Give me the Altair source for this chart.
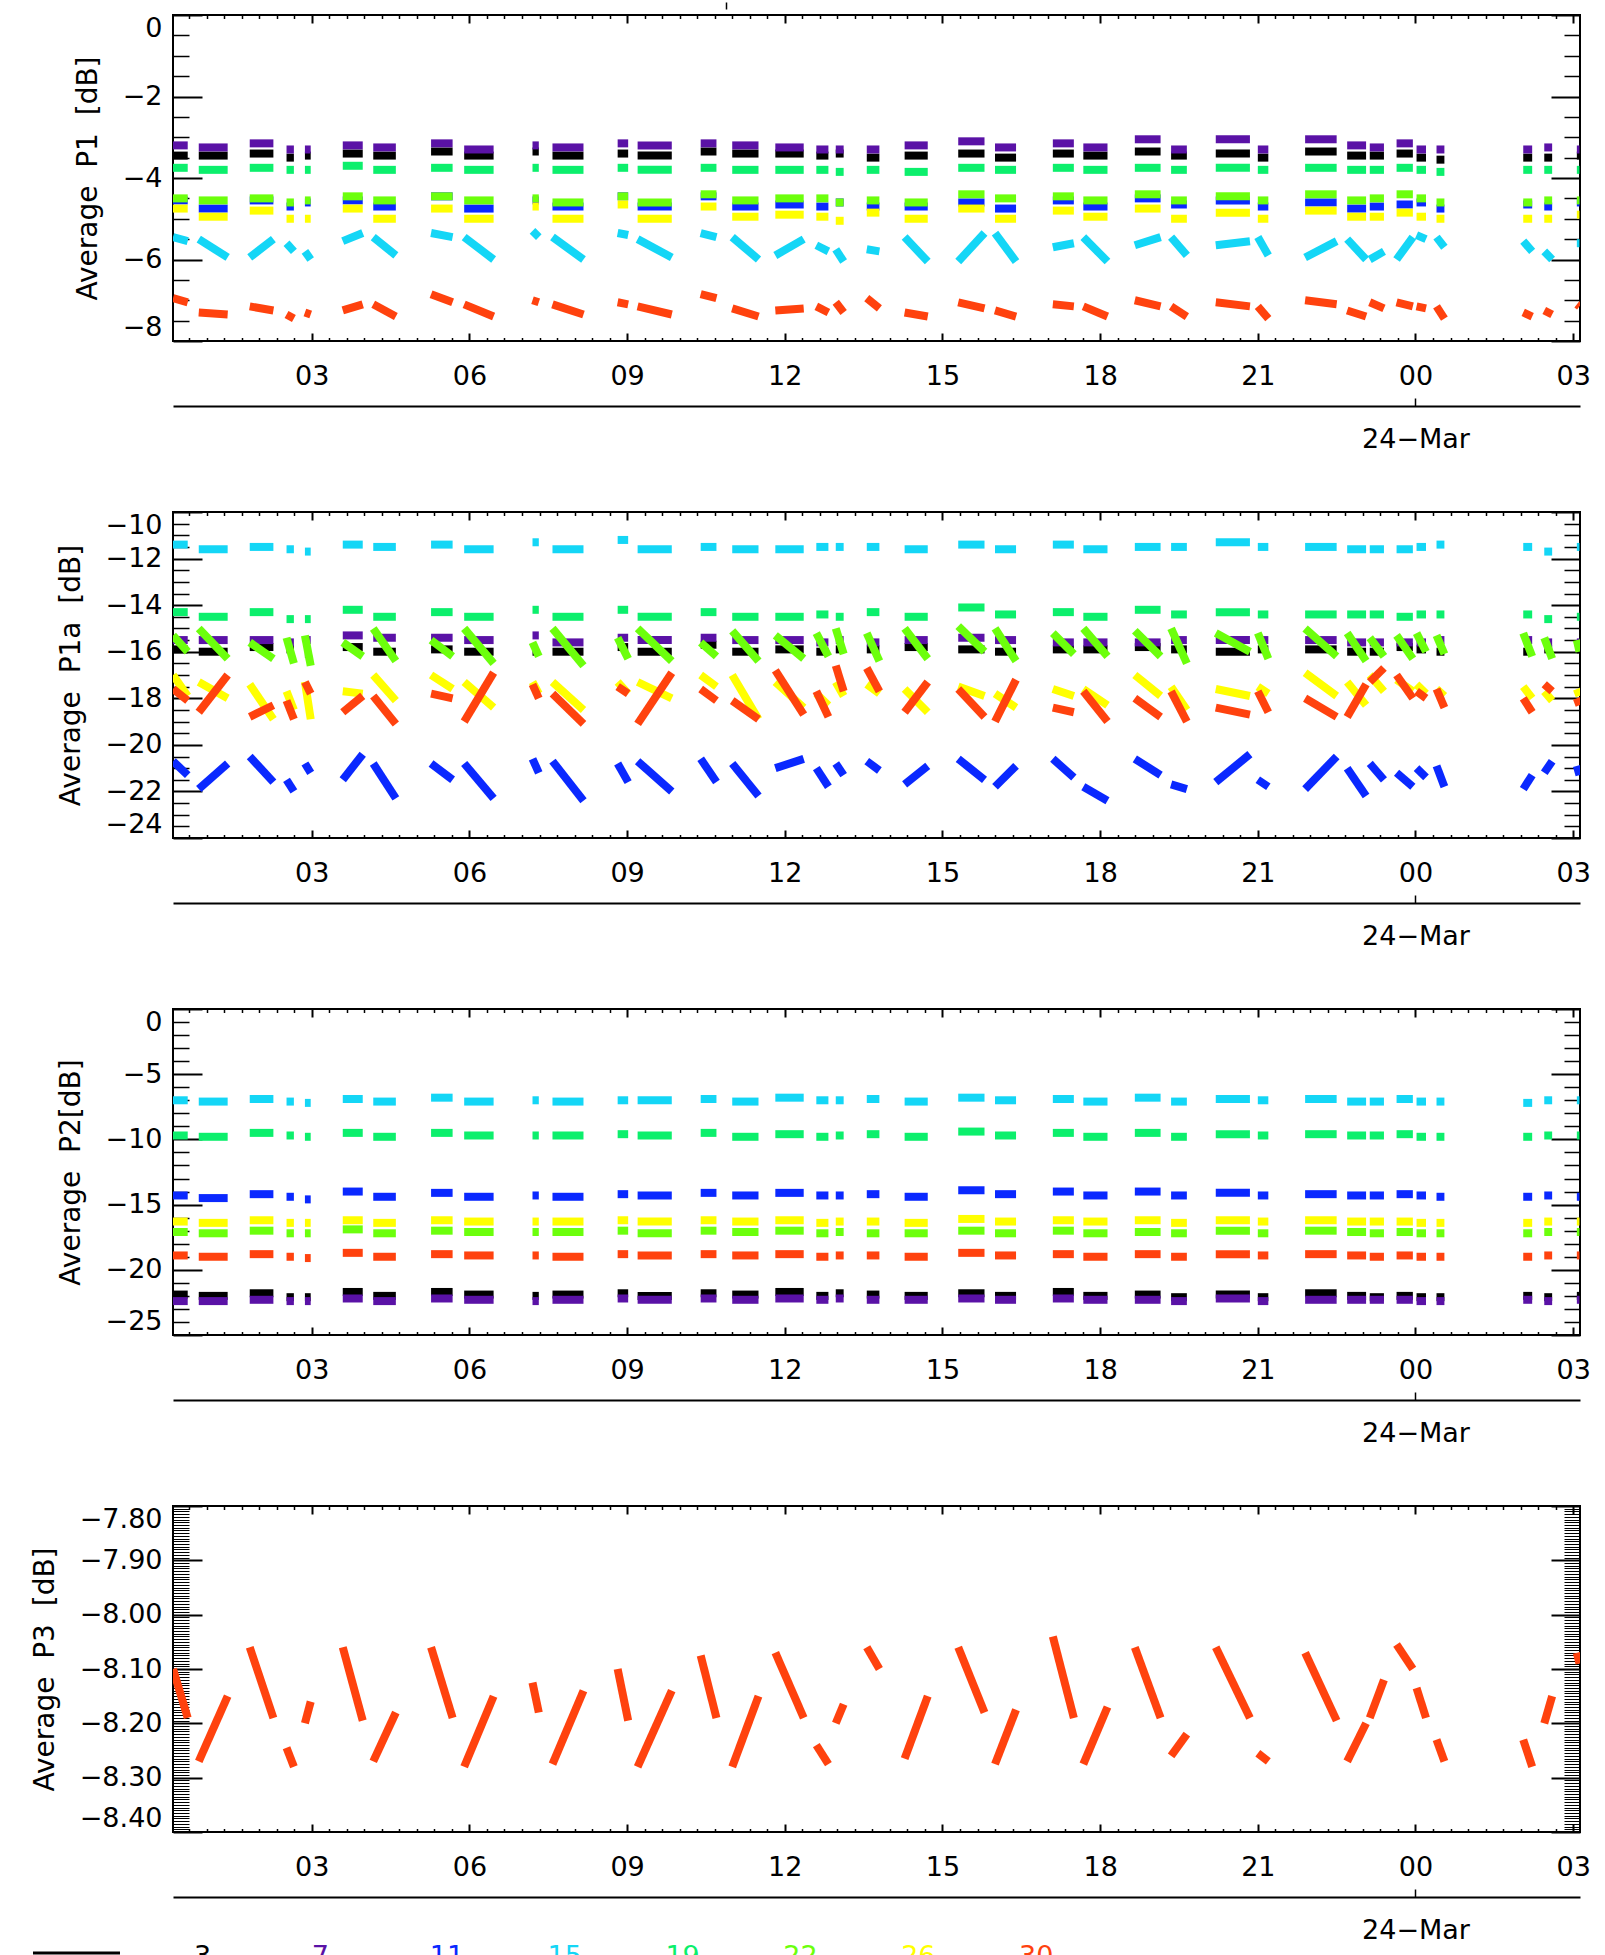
import altair as alt
import pandas as pd

FONT = "DejaVu Sans"

SERIES = ["3", "7", "11", "15", "19", "22", "26", "30"]
COLORS = ["#000000", "#5a12a6", "#0a28ff", "#14d6f6", "#0cef6c", "#6cff0c", "#ffff00", "#ff420e"]

# measurement clusters (hours since 00:00, 23-Mar)
CL_START = [0.36, 0.85, 1.82, 2.52, 2.87, 3.59, 4.17, 5.27, 5.90, 7.20, 7.58, 8.82, 9.20, 10.40, 11.00, 11.82,
            12.60, 12.97, 13.56, 14.28, 15.30, 16.00, 17.10, 17.68, 18.66, 19.35, 20.20, 21.00, 21.90, 22.70,
            23.13, 23.64, 24.02, 24.40, 26.05, 26.45, 27.07]
CL_END = [0.64, 1.40, 2.27, 2.66, 2.98, 3.97, 4.60, 5.68, 6.46, 7.32, 8.17, 9.02, 9.85, 10.70, 11.50, 12.36,
          12.83, 13.12, 13.80, 14.72, 15.80, 16.40, 17.50, 18.14, 19.15, 19.65, 20.85, 21.20, 22.50, 23.06,
          23.40, 23.95, 24.20, 24.55, 26.22, 26.60, 27.12]

# ---------------- Average P1 [dB]
P1_3 = [-3.45,-3.45,-3.40,-3.50,-3.45,-3.40,-3.45,-3.35,-3.45,-3.35,-3.45,-3.40,-3.45,-3.35,-3.40,-3.40,-3.45,-3.40,-3.50,-3.45,-3.40,-3.50,-3.40,-3.45,-3.35,-3.45,-3.40,-3.50,-3.35,-3.45,-3.45,-3.40,-3.50,-3.55,-3.50,-3.50,-3.45]
P1_7 = [-3.20,-3.25,-3.15,-3.30,-3.30,-3.20,-3.25,-3.15,-3.30,-3.20,-3.25,-3.15,-3.20,-3.15,-3.20,-3.25,-3.30,-3.30,-3.30,-3.20,-3.10,-3.25,-3.15,-3.25,-3.05,-3.30,-3.05,-3.30,-3.05,-3.20,-3.25,-3.15,-3.30,-3.30,-3.30,-3.25,-3.30]
P1_11 = [-4.55,-4.75,-4.55,-4.70,-4.60,-4.55,-4.70,-4.45,-4.75,-4.55,-4.70,-4.45,-4.70,-4.45,-4.70,-4.65,-4.70,-4.60,-4.70,-4.70,-4.60,-4.75,-4.55,-4.70,-4.50,-4.65,-4.55,-4.70,-4.60,-4.75,-4.70,-4.65,-4.60,-4.75,-4.65,-4.70,-4.60]
P1_15_S = [-5.45,-5.50,-5.95,-5.60,-5.80,-5.55,-5.45,-5.35,-5.45,-5.30,-5.45,-5.35,-5.50,-5.35,-5.45,-5.90,-5.65,-5.75,-5.75,-5.45,-6.05,-5.35,-5.70,-5.45,-5.65,-5.45,-5.65,-5.45,-5.95,-5.50,-6.00,-6.00,-5.40,-5.45,-5.55,-5.80,-5.60]
P1_15_E = [-5.55,-5.95,-5.50,-5.80,-6.00,-5.35,-5.90,-5.45,-6.00,-5.45,-6.00,-5.40,-5.95,-5.45,-6.00,-5.50,-5.80,-6.05,-5.80,-6.05,-5.35,-6.05,-5.60,-6.05,-5.45,-5.90,-5.55,-5.90,-5.55,-6.00,-5.80,-5.45,-5.50,-5.70,-5.80,-6.00,-5.60]
P1_19 = [-3.75,-3.80,-3.75,-3.80,-3.80,-3.70,-3.80,-3.75,-3.80,-3.75,-3.80,-3.75,-3.80,-3.75,-3.80,-3.80,-3.80,-3.85,-3.80,-3.85,-3.75,-3.80,-3.75,-3.80,-3.75,-3.80,-3.75,-3.80,-3.75,-3.80,-3.80,-3.75,-3.80,-3.85,-3.80,-3.80,-3.80]
P1_22 = [-4.50,-4.55,-4.50,-4.60,-4.55,-4.45,-4.55,-4.45,-4.55,-4.50,-4.60,-4.45,-4.60,-4.40,-4.55,-4.50,-4.50,-4.60,-4.55,-4.60,-4.40,-4.50,-4.45,-4.55,-4.40,-4.55,-4.45,-4.55,-4.40,-4.55,-4.50,-4.40,-4.50,-4.60,-4.60,-4.55,-4.55]
P1_26 = [-4.75,-4.95,-4.80,-5.00,-5.00,-4.75,-5.00,-4.75,-5.00,-4.70,-5.00,-4.65,-5.00,-4.70,-4.95,-4.90,-4.95,-5.05,-4.85,-5.00,-4.75,-5.00,-4.80,-4.95,-4.75,-5.00,-4.85,-5.00,-4.80,-4.95,-4.95,-4.85,-4.95,-5.00,-5.00,-5.00,-4.90]
P1_30_S = [-6.95,-7.30,-7.15,-7.35,-7.30,-7.25,-7.10,-6.85,-7.10,-7.00,-7.10,-7.05,-7.15,-6.85,-7.20,-7.25,-7.15,-7.05,-6.95,-7.30,-7.05,-7.25,-7.10,-7.15,-7.00,-7.15,-7.05,-7.15,-7.00,-7.25,-7.05,-7.05,-7.15,-7.15,-7.30,-7.25,-7.10]
P1_30_E = [-7.05,-7.35,-7.25,-7.45,-7.35,-7.10,-7.40,-7.05,-7.40,-7.05,-7.35,-7.10,-7.35,-6.95,-7.40,-7.20,-7.30,-7.30,-7.20,-7.40,-7.20,-7.40,-7.15,-7.40,-7.15,-7.40,-7.15,-7.45,-7.10,-7.40,-7.20,-7.15,-7.20,-7.45,-7.40,-7.35,-7.15]

# ---------------- Average P1a [dB]
P1A_3 = [-15.9,-16.0,-15.8,-15.9,-16.1,-15.8,-16.0,-15.9,-16.0,-16.0,-16.0,-15.8,-16.0,-15.7,-16.0,-15.9,-16.0,-15.9,-15.9,-15.8,-15.9,-16.0,-15.9,-15.9,-15.8,-15.9,-16.0,-15.9,-15.9,-16.0,-16.0,-15.8,-15.9,-16.0,-16.0,-15.9,-15.9]
P1A_7 = [-15.5,-15.5,-15.5,-15.6,-15.5,-15.3,-15.4,-15.4,-15.5,-15.3,-15.6,-15.4,-15.5,-15.4,-15.5,-15.5,-15.6,-15.5,-15.6,-15.5,-15.4,-15.5,-15.6,-15.6,-15.6,-15.5,-15.5,-15.5,-15.5,-15.6,-15.6,-15.6,-15.6,-15.5,-15.5,-15.6,-15.6]
P1A_11_S = [-20.7,-21.9,-20.5,-21.5,-20.8,-21.5,-20.8,-20.8,-20.8,-20.6,-20.7,-20.8,-20.7,-20.6,-20.8,-21.0,-21.0,-20.8,-20.7,-21.7,-20.6,-21.8,-20.6,-21.8,-20.6,-21.7,-21.6,-21.5,-21.9,-21.0,-20.8,-21.2,-21.0,-20.9,-21.9,-21.2,-20.9]
P1A_11_E = [-21.3,-20.8,-21.6,-22.0,-21.2,-20.4,-22.3,-21.5,-22.3,-21.2,-22.4,-21.6,-22.0,-21.6,-22.2,-20.6,-21.8,-21.3,-21.1,-20.9,-21.5,-20.9,-21.4,-22.4,-21.3,-21.9,-20.4,-21.8,-20.5,-22.2,-21.5,-21.8,-21.4,-21.8,-21.3,-20.7,-21.3]
P1A_15 = [-11.4,-11.6,-11.5,-11.6,-11.7,-11.4,-11.5,-11.4,-11.6,-11.3,-11.6,-11.2,-11.6,-11.5,-11.6,-11.6,-11.5,-11.5,-11.5,-11.6,-11.4,-11.6,-11.4,-11.6,-11.5,-11.5,-11.3,-11.5,-11.5,-11.6,-11.6,-11.6,-11.5,-11.4,-11.5,-11.7,-11.5]
P1A_19 = [-14.3,-14.5,-14.3,-14.6,-14.6,-14.2,-14.5,-14.3,-14.5,-14.2,-14.5,-14.2,-14.5,-14.3,-14.5,-14.5,-14.4,-14.5,-14.3,-14.5,-14.1,-14.4,-14.3,-14.5,-14.2,-14.4,-14.3,-14.4,-14.4,-14.4,-14.4,-14.5,-14.4,-14.4,-14.4,-14.6,-14.5]
P1A_22_S = [-15.3,-15.0,-15.6,-15.4,-15.3,-15.6,-15.0,-15.5,-15.0,-15.6,-15.0,-15.4,-15.0,-15.6,-15.1,-15.3,-15.2,-15.0,-15.2,-15.0,-14.9,-15.0,-15.2,-15.0,-15.1,-15.0,-15.2,-15.2,-15.0,-15.2,-15.4,-15.3,-15.2,-15.3,-15.2,-15.4,-15.5]
P1A_22_E = [-16.0,-16.3,-16.3,-16.5,-16.6,-16.2,-16.4,-16.2,-16.5,-16.2,-16.6,-16.3,-16.4,-16.2,-16.4,-16.3,-16.2,-16.1,-16.4,-16.3,-16.0,-16.4,-16.1,-16.2,-16.2,-16.5,-16.0,-16.3,-16.2,-16.4,-16.2,-16.3,-16.0,-16.1,-16.2,-16.3,-16.0]
P1A_26_S = [-17.0,-17.3,-17.4,-17.7,-17.3,-17.7,-17.0,-17.0,-17.3,-17.3,-17.3,-17.3,-17.3,-17.0,-17.0,-17.3,-17.8,-17.3,-17.4,-17.6,-17.5,-17.8,-17.6,-17.6,-17.0,-17.5,-17.6,-17.5,-16.9,-17.3,-17.0,-17.2,-17.4,-17.6,-17.5,-17.7,-17.6]
P1A_26_E = [-17.9,-18.0,-18.9,-18.5,-18.9,-17.8,-18.1,-17.6,-18.4,-17.8,-18.5,-17.8,-18.0,-17.5,-18.9,-18.4,-18.3,-17.9,-17.8,-18.6,-17.9,-18.4,-17.9,-18.3,-17.9,-18.5,-17.9,-17.8,-17.9,-18.3,-17.7,-17.7,-17.8,-17.9,-18.0,-18.1,-17.9]
P1A_30_S = [-17.6,-18.6,-18.8,-18.1,-17.3,-18.6,-17.9,-17.8,-19.0,-17.4,-17.8,-17.5,-19.1,-17.6,-18.1,-16.8,-17.7,-16.6,-16.7,-18.6,-17.6,-19.0,-18.4,-17.7,-18.0,-17.7,-18.4,-17.7,-18.0,-18.8,-17.3,-17.0,-17.7,-17.6,-18.0,-17.4,-18.0]
P1A_30_E = [-18.1,-17.0,-18.3,-18.9,-17.8,-17.9,-19.1,-18.0,-16.9,-18.0,-19.1,-17.8,-16.9,-18.1,-18.9,-18.7,-18.8,-17.7,-17.7,-17.3,-18.8,-17.2,-18.6,-19.0,-18.8,-19.0,-18.7,-18.6,-18.8,-17.4,-16.7,-18.0,-18.0,-18.4,-18.6,-17.7,-18.3]

# ---------------- Average P2 [dB]
P2_3 = [-21.9,-22.0,-21.8,-22.1,-22.1,-21.7,-22.0,-21.7,-21.9,-22.0,-21.9,-21.8,-22.0,-21.8,-21.9,-21.7,-22.0,-21.8,-21.9,-22.0,-21.8,-22.0,-21.7,-22.0,-21.9,-22.1,-21.9,-22.1,-21.8,-22.0,-22.1,-22.0,-22.1,-22.1,-22.0,-22.1,-22.0]
P2_7 = [-22.4,-22.4,-22.3,-22.4,-22.4,-22.2,-22.4,-22.2,-22.3,-22.4,-22.3,-22.2,-22.3,-22.2,-22.3,-22.2,-22.3,-22.2,-22.3,-22.3,-22.2,-22.3,-22.2,-22.3,-22.3,-22.4,-22.2,-22.4,-22.3,-22.3,-22.3,-22.3,-22.4,-22.4,-22.3,-22.4,-22.3]
P2_11 = [-14.3,-14.5,-14.2,-14.4,-14.6,-14.0,-14.4,-14.1,-14.4,-14.3,-14.4,-14.2,-14.3,-14.1,-14.3,-14.1,-14.3,-14.3,-14.2,-14.4,-13.9,-14.2,-14.0,-14.3,-14.0,-14.3,-14.1,-14.3,-14.2,-14.3,-14.3,-14.2,-14.3,-14.4,-14.4,-14.3,-14.4]
P2_15 = [-7.0,-7.1,-6.9,-7.1,-7.2,-6.9,-7.1,-6.8,-7.1,-7.0,-7.1,-7.0,-7.0,-6.9,-7.1,-6.8,-7.0,-7.0,-6.9,-7.1,-6.8,-7.0,-6.9,-7.1,-6.8,-7.1,-6.9,-7.0,-6.9,-7.1,-7.1,-6.9,-7.1,-7.1,-7.2,-7.0,-7.0]
P2_19 = [-9.7,-9.8,-9.5,-9.7,-9.8,-9.5,-9.8,-9.5,-9.7,-9.7,-9.7,-9.6,-9.7,-9.5,-9.8,-9.6,-9.8,-9.7,-9.6,-9.8,-9.4,-9.7,-9.5,-9.8,-9.5,-9.8,-9.6,-9.7,-9.6,-9.7,-9.7,-9.6,-9.8,-9.8,-9.8,-9.7,-9.7]
P2_22 = [-17.1,-17.2,-17.0,-17.2,-17.2,-16.9,-17.2,-17.0,-17.1,-17.1,-17.1,-17.0,-17.2,-17.0,-17.1,-17.0,-17.2,-17.1,-17.2,-17.2,-17.0,-17.2,-17.0,-17.2,-17.1,-17.2,-17.0,-17.2,-17.0,-17.1,-17.2,-17.1,-17.2,-17.2,-17.2,-17.1,-17.1]
P2_26 = [-16.3,-16.4,-16.2,-16.4,-16.4,-16.2,-16.4,-16.2,-16.3,-16.3,-16.3,-16.2,-16.3,-16.2,-16.3,-16.2,-16.4,-16.3,-16.3,-16.4,-16.1,-16.3,-16.2,-16.3,-16.2,-16.4,-16.2,-16.3,-16.2,-16.3,-16.3,-16.3,-16.4,-16.4,-16.4,-16.3,-16.3]
P2_30 = [-18.9,-19.0,-18.8,-19.0,-19.1,-18.7,-19.0,-18.8,-18.9,-18.9,-19.0,-18.8,-18.9,-18.8,-18.9,-18.8,-19.0,-18.9,-18.9,-19.0,-18.7,-18.9,-18.8,-19.0,-18.8,-19.0,-18.8,-18.9,-18.8,-18.9,-19.0,-18.9,-19.0,-19.0,-19.0,-18.9,-18.9]

# ---------------- Average P3 [dB] (channel 30 only)
P3_30_S = [-8.100,-8.270,-8.060,-8.245,-8.200,-8.060,-8.270,-8.060,-8.280,-8.125,-8.275,-8.100,-8.280,-8.075,-8.280,-8.070,-8.240,-8.200,-8.060,-8.265,-8.060,-8.275,-8.040,-8.275,-8.060,-8.260,-8.060,-8.255,-8.070,-8.270,-8.190,-8.055,-8.135,-8.230,-8.230,-8.200,-8.070]
P3_30_E = [-8.190,-8.150,-8.190,-8.280,-8.160,-8.195,-8.180,-8.190,-8.150,-8.180,-8.140,-8.195,-8.140,-8.190,-8.150,-8.190,-8.275,-8.165,-8.100,-8.150,-8.180,-8.175,-8.190,-8.170,-8.190,-8.220,-8.190,-8.270,-8.195,-8.200,-8.120,-8.100,-8.190,-8.270,-8.280,-8.150,-8.090]

LEGEND_LABELS = ["3", "7", "11", "15", "19", "22", "26", "30"]

# ---------------- layout / style
W, H = 1407, 326
X_DOMAIN = [0.36, 27.13]
X_MAJOR = [3, 6, 9, 12, 15, 18, 21, 24, 27]
X_MINOR = [k / 3 for k in range(1, 82) if k % 9 != 0 and X_DOMAIN[0] < k / 3 < X_DOMAIN[1]]
LABEL_SIZE = 27
TITLE_SIZE = 28
NB = "\u00a0"


def build(spec):
    rows = []
    for s in SERIES:
        if s not in spec:
            continue
        vs, ve = spec[s]
        ve = vs if ve is None else ve
        assert len(vs) == len(CL_START) and len(ve) == len(CL_START), (s, len(vs), len(ve))
        for a, b, v0, v1 in zip(CL_START, CL_END, vs, ve):
            rows.append({"series": s, "t0": a, "t1": b, "v0": v0, "v1": v1})
    return pd.DataFrame(rows)


def tick_axis(orient, offset, values, size, width=2):
    return alt.Axis(orient=orient, offset=offset, values=values, tickSize=size, tickWidth=width,
                    tickColor="black", ticks=True, labels=False, domain=False, grid=False, title=None)


def panel(df, ydom, ymajor, yminor, yfmt, ytitle, widths, top_tick=False, minor_w=1.5):
    xs = alt.Scale(domain=X_DOMAIN, nice=False, zero=False)
    ys = alt.Scale(domain=ydom, nice=False, zero=False)

    x_lab = alt.Axis(orient="bottom", values=X_MAJOR, ticks=False, domain=False, grid=False,
                     labelExpr="(datum.value % 24 < 10 ? '0' : '') + (datum.value % 24)",
                     labelFontSize=LABEL_SIZE, labelFont=FONT, labelColor="black", labelPadding=22,
                     labelFlush=False, labelOverlap=False, title=None)
    y_lab = alt.Axis(orient="left", values=ymajor, format=yfmt, ticks=False, domain=False, grid=False,
                     labelFontSize=LABEL_SIZE, labelFont=FONT, labelColor="black", labelPadding=11,
                     labelFlush=True, labelOverlap=False, title=ytitle, titleFontSize=TITLE_SIZE,
                     titleFont=FONT, titleFontWeight="normal", titleColor="black", titlePadding=20)

    data = alt.Chart(df).mark_rule(clip=True, strokeCap="butt").encode(
        x=alt.X("t0:Q", scale=xs, axis=x_lab),
        x2="t1:Q",
        y=alt.Y("v0:Q", scale=ys, axis=y_lab),
        y2="v1:Q",
        color=alt.Color("series:N", scale=alt.Scale(domain=SERIES, range=COLORS), legend=None),
        strokeWidth=alt.StrokeWidth("series:O", scale=alt.Scale(domain=SERIES, range=widths), legend=None),
    )

    def axl(xaxis, yaxis):
        return alt.Chart(df).mark_point(opacity=0, size=1).encode(
            x=alt.X("t0:Q", scale=xs, axis=xaxis),
            y=alt.Y("v0:Q", scale=ys, axis=yaxis),
        )

    layers = [
        data,
        axl(tick_axis("top", -H, X_MAJOR, 8), tick_axis("right", -W, ymajor, 29)),
        axl(tick_axis("top", -H, X_MINOR, 3.5, 1.5), tick_axis("right", -W, yminor, 16, minor_w)),
        axl(tick_axis("bottom", -H, X_MAJOR, 8), tick_axis("left", -W, ymajor, 29)),
        axl(tick_axis("bottom", -H, X_MINOR, 3.5, 1.5), tick_axis("left", -W, yminor, 16, minor_w)),
        # second (date) axis line with the day-boundary tick
        axl(alt.Axis(orient="top", offset=-(H + 65), values=[24], tickSize=8, tickWidth=1.5,
                     tickColor="black", labels=False, domain=True, domainColor="black",
                     domainWidth=2, grid=False, title=None), None),
        # date label
        axl(alt.Axis(orient="bottom", offset=65, values=[24], ticks=False, domain=False, grid=False,
                     labelExpr="'24\u2212Mar'", labelFontSize=LABEL_SIZE, labelFont=FONT,
                     labelColor="black", labelPadding=20, labelFlush=False, title=None), None),
    ]
    if top_tick:
        layers.append(axl(alt.Axis(orient="top", offset=6, values=[10.875], tickSize=7, tickWidth=1.5,
                                   tickColor="black", labels=False, domain=False, grid=False,
                                   title=None), None))
    return alt.layer(*layers).resolve_scale(x="independent", y="independent").properties(width=W, height=H)


df1 = build({"3": (P1_3, None), "7": (P1_7, None), "11": (P1_11, None), "15": (P1_15_S, P1_15_E),
             "19": (P1_19, None), "22": (P1_22, None), "26": (P1_26, None), "30": (P1_30_S, P1_30_E)})
df2 = build({"3": (P1A_3, None), "7": (P1A_7, None), "11": (P1A_11_S, P1A_11_E), "15": (P1A_15, None),
             "19": (P1A_19, None), "22": (P1A_22_S, P1A_22_E), "26": (P1A_26_S, P1A_26_E),
             "30": (P1A_30_S, P1A_30_E)})
df3 = build({"3": (P2_3, None), "7": (P2_7, None), "11": (P2_11, None), "15": (P2_15, None),
             "19": (P2_19, None), "22": (P2_22, None), "26": (P2_26, None), "30": (P2_30, None)})
df4 = build({"30": (P3_30_S, P3_30_E)})

p1 = panel(df1, [-8, 0], [0, -2, -4, -6, -8], [-0.5 * k for k in range(17) if k % 4 != 0], "d",
           f"Average{NB} P1{NB} [dB]", [8, 8, 7, 5, 5, 7, 8, 5], top_tick=True)
p2 = panel(df2, [-24, -10], [-10, -12, -14, -16, -18, -20, -22, -24],
           [-10 - 0.5 * k for k in range(29) if k % 4 != 0], "d",
           f"Average{NB} P1a{NB} [dB]", [7, 7, 5, 5, 5, 4, 7, 5])
p3 = panel(df3, [-25, 0], [0, -5, -10, -15, -20, -25], [-k for k in range(26) if k % 5 != 0], "d",
           f"Average{NB} P2[dB]", [14, 14, 13, 11, 11, 10, 10, 12])
p4 = panel(df4, [-8.4, -7.8], [-7.8, -7.9, -8.0, -8.1, -8.2, -8.3, -8.4],
           [round(-7.8 - 0.005 * k, 4) for k in range(121) if k % 20 != 0], ".2f",
           f"Average{NB} P3{NB} [dB]", [4, 4, 4, 4, 4, 4, 4, 4], minor_w=1)

legend_df = pd.DataFrame({"label": LEGEND_LABELS, "series": SERIES})
leg_line = alt.Chart(legend_df.head(1)).mark_rule(color="black", strokeWidth=3).encode(
    x=alt.value(-140), x2=alt.value(-53), y=alt.value(9))
leg_text = alt.Chart(legend_df).mark_text(align="left", baseline="top", fontSize=LABEL_SIZE, font=FONT,
                                          clip=True).encode(
    x=alt.X("label:N", sort=None, scale=alt.Scale(type="point", range=[21, 846], padding=0), axis=None),
    y=alt.value(0),
    text="label:N",
    color=alt.Color("series:N", scale=alt.Scale(domain=SERIES, range=COLORS), legend=None),
)
legend = alt.layer(leg_line, leg_text).properties(width=W, height=11,
                                                   view=alt.ViewBackground(strokeOpacity=0))

panels = alt.vconcat(p1, p2, p3, p4, spacing=57)
chart = alt.vconcat(panels, legend, spacing=0).properties(
    padding={"left": 30, "top": 0, "right": 5, "bottom": 0}
).configure_view(stroke="black", strokeWidth=2).configure_axis(
    labelFont=FONT, titleFont=FONT, grid=False
)

chart.save("out.html", embed_options={"renderer": "svg", "actions": False})
